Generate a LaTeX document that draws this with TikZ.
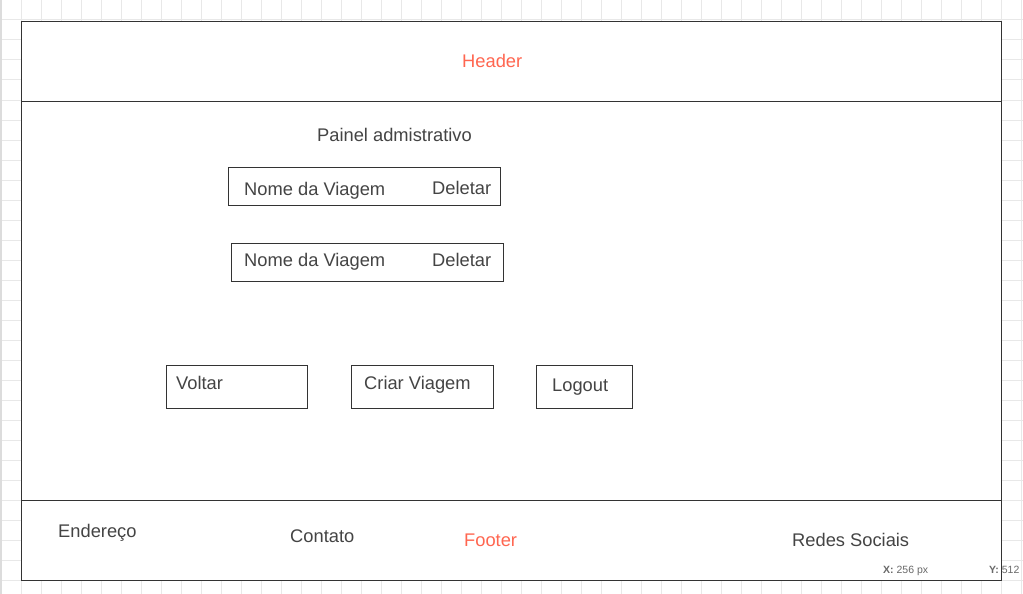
\documentclass[tikz,border=0pt]{standalone}
\usepackage{fontspec}
\setmainfont{Liberation Sans}
\usepackage{tikz}
\usetikzlibrary{calc, positioning, backgrounds}
\definecolor{inkline}{HTML}{333333}
\definecolor{inktxt}{HTML}{444444}
\definecolor{accent}{HTML}{FF6650}
\definecolor{gridgray}{HTML}{E8E8E8}
\definecolor{edgegray}{HTML}{DCDCDC}
\tikzstyle{panel}=[inner sep=0pt, draw=inkline, fill=white, line width=1pt, shape=rectangle, anchor=north west]
\tikzstyle{box}=[inner sep=0pt, draw=inkline, line width=1pt, shape=rectangle, anchor=north west]
\tikzstyle{lbl}=[inner sep=0pt, anchor=base west, text=inktxt, font=\fontsize{18.3}{20}\selectfont]
\tikzstyle{hot}=[lbl, text=accent]
\tikzstyle{tiny}=[inner sep=0pt, anchor=base west, text=inktxt!80, font=\fontsize{10.5}{12}\selectfont]
\tikzstyle{gridln}=[draw=gridgray, line width=1pt]

\begin{document}
\begin{tikzpicture}[x=1pt, y=-1pt]
\useasboundingbox (0,0) rectangle (1023,594);
% the background grid
\foreach \gx in {1,21,...,1021} \draw[gridln] (\gx,0) -- (\gx,594);
\foreach \gy in {0,20,...,580} \draw[gridln] (0,\gy) -- (1023,\gy);
\draw[gridln, draw=edgegray, line width=2pt] (1,0) -- (1,594);
% the page: header, body, footer
\node[panel, minimum width=980pt, minimum height=80pt] (head) at (21,21) {};
\node[panel, minimum width=980pt, minimum height=399pt] (body) at (21,101) {};
\node[panel, minimum width=980pt, minimum height=80pt] (foot) at (21,500) {};
\node[hot] (headtxt) at (462,67) {Header};
% the admin panel
\node[lbl] (title) at (317,141) {Painel admistrativo};
\node[box, minimum width=272pt, minimum height=38pt] (trip1) at (228,167) {};
\node[lbl] (name1) at (244,195) {Nome da Viagem};
\node[lbl] (del1) at (432,194) {Deletar};
\node[box, minimum width=272pt, minimum height=38pt] (trip2) at (231,243) {};
\node[lbl] (name2) at (244,266) {Nome da Viagem};
\node[lbl] (del2) at (432,266) {Deletar};
% the buttons
\node[box, minimum width=141pt, minimum height=43pt] (back) at (166,365) {};
\node[lbl] (backtxt) at (176,389) {Voltar};
\node[box, minimum width=142pt, minimum height=43pt] (create) at (351,365) {};
\node[lbl] (createtxt) at (364,389) {Criar Viagem};
\node[box, minimum width=96pt, minimum height=43pt] (logout) at (536,365) {};
\node[lbl] (logouttxt) at (552,391) {Logout};
% the footer
\node[lbl] (addr) at (58,537) {Endereço};
\node[lbl] (contact) at (290,542) {Contato};
\node[hot] (foottxt) at (464,546) {Footer};
\node[lbl] (social) at (792,546) {Redes Sociais};
% the cursor readout
\node[tiny] (xpos) at (883,573) {\textbf{X:} 256 px};
\node[tiny] (ypos) at (989,573) {\textbf{Y:} 512};
\end{tikzpicture}
\end{document}
